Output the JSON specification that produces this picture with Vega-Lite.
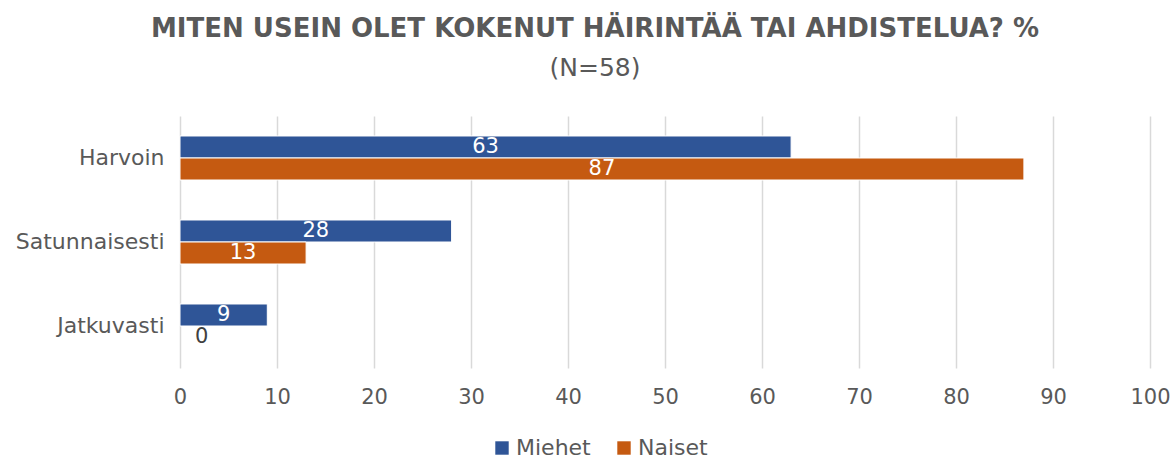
{
  "$schema": "https://vega.github.io/schema/vega-lite/v6.json",
  "width": 970,
  "height": 252,
  "autosize": {"type": "none"},
  "padding": {"left": 180, "top": 116, "right": 23, "bottom": 94},
  "background": "white",
  "config": {
    "font": "DejaVu Sans",
    "view": {"stroke": null}
  },
  "title": {
    "text": "MITEN USEIN OLET KOKENUT HÄIRINTÄÄ TAI AHDISTELUA? %",
    "subtitle": "(N=58)",
    "anchor": "middle",
    "dx": -70,
    "fontSize": 26,
    "fontWeight": "bold",
    "color": "#595959",
    "subtitleFontSize": 25,
    "subtitleColor": "#595959",
    "subtitlePadding": 14,
    "offset": 35
  },
  "data": {
    "values": [
      {"kategoria": "Harvoin", "ryhma": "Miehet", "arvo": 63},
      {"kategoria": "Harvoin", "ryhma": "Naiset", "arvo": 87},
      {"kategoria": "Satunnaisesti", "ryhma": "Miehet", "arvo": 28},
      {"kategoria": "Satunnaisesti", "ryhma": "Naiset", "arvo": 13},
      {"kategoria": "Jatkuvasti", "ryhma": "Miehet", "arvo": 9},
      {"kategoria": "Jatkuvasti", "ryhma": "Naiset", "arvo": 0}
    ]
  },
  "encoding": {
    "y": {
      "field": "kategoria",
      "type": "nominal",
      "sort": ["Harvoin", "Satunnaisesti", "Jatkuvasti"],
      "scale": {"paddingInner": 0.476, "paddingOuter": 0.238},
      "axis": {
        "title": null,
        "domain": false,
        "ticks": false,
        "labelFontSize": 22,
        "labelColor": "#595959",
        "labelPadding": 16
      }
    },
    "yOffset": {
      "field": "ryhma",
      "type": "nominal",
      "sort": ["Miehet", "Naiset"]
    }
  },
  "layer": [
    {
      "transform": [{"filter": "datum.arvo > 0"}],
      "mark": {"type": "bar", "stroke": "white", "strokeWidth": 1},
      "encoding": {
        "x": {
          "field": "arvo",
          "type": "quantitative",
          "scale": {"domain": [0, 100], "nice": false},
          "axis": {
            "title": null,
            "values": [0, 10, 20, 30, 40, 50, 60, 70, 80, 90, 100],
            "domain": false,
            "ticks": false,
            "grid": true,
            "gridColor": "#d9d9d9",
            "gridWidth": 1.5,
            "labelFlush": false,
            "labelFontSize": 21,
            "labelColor": "#595959",
            "labelPadding": 18
          }
        },
        "color": {
          "field": "ryhma",
          "type": "nominal",
          "scale": {"domain": ["Miehet", "Naiset"], "range": ["#2F5597", "#C55A11"]},
          "legend": {
            "title": null,
            "orient": "none",
            "direction": "horizontal",
            "legendX": 311,
            "legendY": 321,
            "symbolType": "square",
            "symbolSize": 180,
            "symbolStrokeWidth": 0,
            "labelFontSize": 22,
            "labelColor": "#595959",
            "labelOffset": 3,
            "columnPadding": 22
          }
        }
      }
    },
    {
      "transform": [
        {"filter": "datum.arvo > 0"},
        {"calculate": "datum.arvo / 2", "as": "keski"}
      ],
      "mark": {"type": "text", "fontSize": 21, "color": "white", "align": "center", "baseline": "middle"},
      "encoding": {
        "x": {"field": "keski", "type": "quantitative"},
        "text": {"field": "arvo", "type": "quantitative"}
      }
    },
    {
      "transform": [{"filter": "datum.arvo == 0"}],
      "mark": {"type": "text", "fontSize": 21, "color": "#404040", "align": "left", "baseline": "middle", "dx": 15},
      "encoding": {
        "x": {"field": "arvo", "type": "quantitative"},
        "text": {"field": "arvo", "type": "quantitative"}
      }
    }
  ]
}
